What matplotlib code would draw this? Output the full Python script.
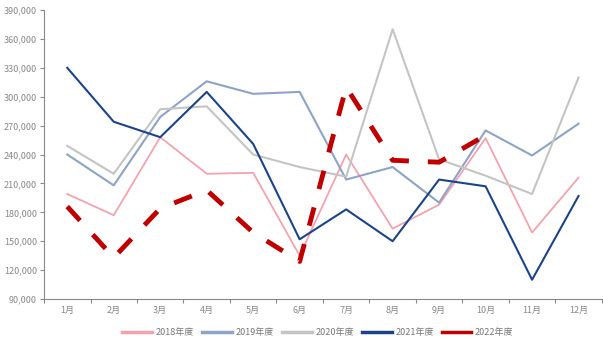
import matplotlib
matplotlib.use("Agg")
import matplotlib.pyplot as plt
from matplotlib.ticker import FuncFormatter, FixedLocator

plt.rcParams['font.family'] = ['Noto Sans CJK SC', 'DejaVu Sans']

# ===============================
# DATA
# ===============================
months = ['1月', '2月', '3月', '4月', '5月', '6月', '7月', '8月', '9月', '10月', '11月', '12月']

y2018 = [199000, 177000, 258000, 220000, 221000, 135000, 240000, 163000, 188000, 257000, 159000, 216000]
y2019 = [240000, 208000, 279000, 316000, 303000, 305000, 214000, 227000, 190000, 265000, 239000, 272000]
y2020 = [249000, 220000, 287000, 290000, 240000, 227000, 217000, 370000, 235000, 218000, 199000, 320000]
y2021 = [330000, 274000, 258000, 305000, 251000, 152000, 183000, 150000, 214000, 207000, 110000, 197000]
y2022 = [186000, 133000, 184000, 203000, 159000, 129000, 310000, 234000, 232000, 260000]

series = [
    ('2018年度', y2018, '#F4A3AE', 1.3),
    ('2019年度', y2019, '#8DA4C6', 1.5),
    ('2020年度', y2020, '#C4C4C4', 1.5),
    ('2021年度', y2021, '#1B4488', 1.5),
]

# ===============================
# PLOT
# ===============================
fig = plt.figure(figsize=(6.03, 3.42), dpi=100)
ax = fig.add_axes([0.073, 0.1257, 0.925, 0.845])

x = list(range(len(months)))
for label, vals, color, lw in series:
    ax.plot(x[:len(vals)], vals, color=color, lw=lw, label=label)

# 2022 only runs to October
ax.plot(x[:len(y2022)], y2022, color='#C00000', lw=3.5, ls=(0, (3.9, 3.9)), label='2022年度')

ax.set_xlim(-0.5, 11.5)
ax.set_ylim(90000, 390000)
ax.set_yticks(range(90000, 390001, 30000))
ax.yaxis.set_major_formatter(FuncFormatter(lambda v, p: f'{int(v):,}'))

ax.set_xticks(x)
ax.set_xticklabels(months)
ax.xaxis.set_minor_locator(FixedLocator([i - 0.5 for i in range(13)]))
ax.tick_params(axis='x', which='major', length=0, pad=5, labelsize=6.5, labelcolor='#888888')
ax.tick_params(axis='x', which='minor', length=3, color='#888888', width=0.8)
ax.tick_params(axis='y', length=3, color='#888888', width=0.8, labelsize=6.5, labelcolor='#888888', pad=2)

for s in ['top', 'right']:
    ax.spines[s].set_visible(False)
for s in ['left', 'bottom']:
    ax.spines[s].set_color('#888888')
    ax.spines[s].set_linewidth(0.8)

leg = ax.legend(loc='upper center', bbox_to_anchor=(0.491, -0.073), ncol=5, frameon=False,
                fontsize=6.5, handlelength=3.3, columnspacing=0.9, handletextpad=0.4)
for h in leg.get_lines():
    h.set_linewidth(2.5)
    h.set_linestyle('-')
for t in leg.get_texts():
    t.set_color('#777777')

fig.savefig("out.png", dpi=100)
